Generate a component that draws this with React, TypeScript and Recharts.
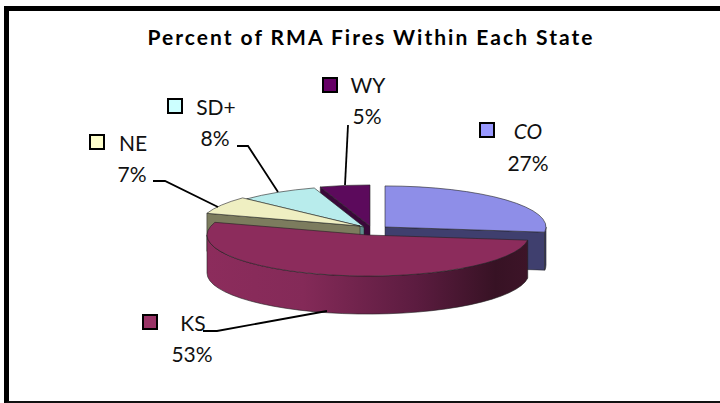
import { PieChart, Pie } from 'recharts';

// listed counter-clockwise starting at CO, so later slices paint over the ones behind them
const states = ['CO', 'WY', 'SD+', 'NE', 'KS'];
const shares = [27, 5, 8, 7, 53];

const topColors: Record<string, string> = {
    NE: '#efefc2',
    'SD+': '#b8ecec',
    WY: '#5c0a5c',
    CO: '#8e8ee8',
    KS: '#8c2c5c',
};
const sideColors: Record<string, string> = {
    NE: '#7c7c5e',
    'SD+': '#5e8c8c',
    WY: '#3a083a',
    CO: '#3f3f6e',
    KS: 'url(#ksSide)',
};
const keyColors: Record<string, string> = {
    NE: '#ffffcc',
    'SD+': '#ccffff',
    WY: '#660066',
    CO: '#9999ff',
    KS: '#993366',
};

// how far each slice is pulled out of the pie
const explode: Record<string, [number, number]> = {
    NE: [-11, 0],
    'SD+': [-7, 1],
    WY: [-1, 0],
    CO: [14, 1],
    KS: [-3, 9],
};

const labelLayout: Record<string, { key: [number, number]; nameX: number; nameY: number; pctX: number; pctY: number; leader: string; italic?: boolean }> = {
    NE: { key: [90, 135], nameX: 133, nameY: 151, pctX: 132, pctY: 182, leader: '153,181 165,181 218,207' },
    'SD+': { key: [168, 99], nameX: 216, nameY: 115, pctX: 215, pctY: 146, leader: '237,146 248,146 278,192' },
    WY: { key: [323, 78], nameX: 368, nameY: 93, pctX: 367, pctY: 124, leader: '348,125 345,185' },
    CO: { key: [480, 123], nameX: 528, nameY: 139, pctX: 528, pctY: 171, leader: '', italic: true },
    KS: { key: [143, 315], nameX: 193, nameY: 331, pctX: 192, pctY: 362, leader: '203,331 217,331 327,311' },
};

const TILT = 0.255;
const DEPTH = 38;
const FONT = 'Lato, "Noto Sans", sans-serif';

const data = states.map((name, i) => ({ name, value: shares[i] }));

function Slice(props: any) {
    const { name, startAngle, endAngle, outerRadius } = props;
    const [dx, dy] = explode[name];
    const cx = props.cx + dx;
    const cy = props.cy + dy;
    const rx = outerRadius;
    const ry = outerRadius * TILT;
    const px = (a: number) => cx + rx * Math.cos((a * Math.PI) / 180);
    const py = (a: number) => cy - ry * Math.sin((a * Math.PI) / 180);
    const side = sideColors[name];

    const hi = Math.max(startAngle, endAngle);
    const lo = Math.min(startAngle, endAngle);

    // clockwise from 12 o'clock, which makes the visibility tests simpler
    const from = ((90 - hi) % 360 + 360) % 360;
    const to = from + (hi - lo);
    const clock = (t: number) => 90 - t;

    const faces: string[] = [];
    const addFace = (t: number) => {
        const a = clock(t);
        faces.push(`M${cx},${cy} L${px(a)},${py(a)} L${px(a)},${py(a) + DEPTH} L${cx},${cy + DEPTH} Z`);
    };
    if (Math.cos(((from - 270) * Math.PI) / 180) > 0.01) addFace(from);
    if (Math.cos(((to - 90) * Math.PI) / 180) > 0.01) addFace(to);

    const wallFrom = Math.max(from, 90);
    const wallTo = Math.min(to, 270);
    let wall = '';
    if (wallTo > wallFrom) {
        const a0 = clock(wallFrom);
        const a1 = clock(wallTo);
        wall =
            `M${px(a0)},${py(a0)} A${rx},${ry} 0 0 1 ${px(a1)},${py(a1)} ` +
            `L${px(a1)},${py(a1) + DEPTH} A${rx},${ry} 0 0 0 ${px(a0)},${py(a0) + DEPTH} Z`;
    }
    const large = to - from > 180 ? 1 : 0;
    const top =
        `M${cx},${cy} L${px(hi)},${py(hi)} ` +
        `A${rx},${ry} 0 ${large} 1 ${px(lo)},${py(lo)} Z`;

    return (
        <g>
            {faces.map((d, i) => (
                <path key={i} d={d} fill={side} stroke="#222" strokeWidth={0.5} />
            ))}
            {wall && <path d={wall} fill={side} stroke="#222" strokeWidth={0.6} />}
            <path d={top} fill={topColors[name]} stroke="#222" strokeWidth={0.6} />
        </g>
    );
}

function SliceLabel(props: any) {
    const { name, value } = props;
    const l = labelLayout[name];
    const textStyle = { fontFamily: FONT, fontSize: 21, fill: '#111' };
    return (
        <g>
            <rect x={l.key[0]} y={l.key[1]} width={14} height={14} fill={keyColors[name]} stroke="#000" strokeWidth={2} />
            <text x={l.nameX} y={l.nameY} textAnchor="middle" style={textStyle} fontStyle={l.italic ? 'italic' : 'normal'}>
                {name}
            </text>
            <text x={l.pctX} y={l.pctY} textAnchor="middle" style={textStyle}>
                {value}%
            </text>
            {l.leader && <polyline points={l.leader} fill="none" stroke="#000" strokeWidth={1.8} />}
        </g>
    );
}

export default function App() {
    return (
        <div style={{ position: 'absolute', left: 0, top: 0, width: 720, height: 403, background: '#fff', overflow: 'hidden' }}>
            <div style={{ position: 'absolute', left: 4, top: 6, width: 716, height: 397, boxSizing: 'border-box', borderLeft: '5px solid #000', borderTop: '5px solid #000', borderBottom: '2px solid #111' }} />
            <div style={{ position: 'absolute', left: 0, top: 0 }}>
                <PieChart width={720} height={403} margin={{ top: 0, right: 0, bottom: 0, left: 0 }}>
                    <defs>
                        <linearGradient id="ksSide" x1="0" y1="0" x2="1" y2="0">
                            <stop offset="0%" stopColor="#8c2c5c" />
                            <stop offset="30%" stopColor="#842a58" />
                            <stop offset="65%" stopColor="#5c1c40" />
                            <stop offset="90%" stopColor="#371224" />
                            <stop offset="100%" stopColor="#3d1428" />
                        </linearGradient>
                    </defs>
                    <text x={371} y={45} textAnchor="middle" style={{ fontFamily: FONT, fontSize: 21, fontWeight: 700, letterSpacing: 2, fill: '#000' }}>
                        Percent of RMA Fires Within Each State
                    </text>
                    <Pie
                        data={data}
                        dataKey="value"
                        nameKey="name"
                        cx={371}
                        cy={226}
                        innerRadius={0}
                        outerRadius={161}
                        startAngle={-7.2}
                        endAngle={352.8}
                        stroke="none"
                        isAnimationActive={false}
                        shape={Slice}
                        label={SliceLabel}
                        labelLine={false}
                    />
                </PieChart>
            </div>
        </div>
    );
}
